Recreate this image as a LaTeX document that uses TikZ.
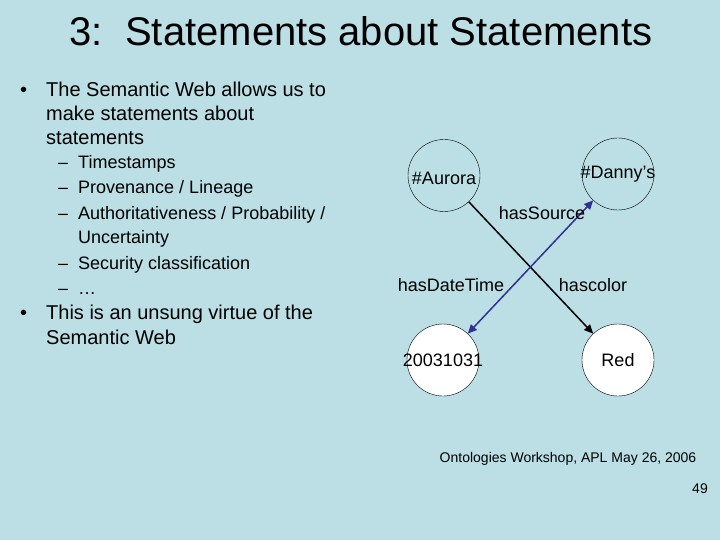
\documentclass[tikz,border=0pt]{standalone}
\usepackage{fontspec}
\setmainfont{Liberation Sans}
\usepackage{tikz}
\usetikzlibrary{arrows.meta,positioning}
\definecolor{slidebg}{RGB}{187,223,228}
\definecolor{arcblue}{RGB}{48,48,150}
\tikzset{
  resnode/.style={circle, draw=black, thin, minimum size=72pt, inner sep=0pt},
  litnode/.style={resnode, fill=white},
  proplabel/.style={font=\fontsize{18}{20}\selectfont},
  bodyline/.style={anchor=base west, inner sep=0pt, font=\fontsize{20}{24}\selectfont},
  subline/.style={anchor=base west, inner sep=0pt, font=\fontsize{18}{22}\selectfont},
  flow/.style={-{Triangle[length=9pt,width=8pt]}, line width=1.5pt},
  blueflow/.style={{Triangle[length=9pt,width=8pt]}-{Triangle[length=9pt,width=8pt]}, line width=1.5pt, draw=arcblue}
}
\begin{document}
\begin{tikzpicture}[x=1pt, y=-1pt]
\fill[slidebg] (0,0) rectangle (720,540);
\useasboundingbox (0,0) rectangle (720,540);

% title
\node[anchor=base, inner sep=0pt, font=\fontsize{40}{44}\selectfont] (title) at (361,46) {3:\ \ Statements about Statements};

% bullets
\node[bodyline] (b1) at (20,96.5) {•};
\node[bodyline] (t1) at (46,96.5) {The Semantic Web allows us to};
\node[bodyline] (t2) at (46,120.5) {make statements about};
\node[bodyline] (t3) at (46,144.5) {statements};
\foreach \y/\txt in {168.5/{Timestamps}, 194/{Provenance / Lineage},
    219.5/{Authoritativeness / Probability /}, 269.5/{Security classification}, 294.5/{\ldots}} {
  \node[subline] at (58,\y) {–};
  \node[subline] at (78,\y) {\txt};
}
\node[subline] (t4) at (78,243.5) {Uncertainty};
\node[bodyline] (b2) at (20,319.5) {•};
\node[bodyline] (t5) at (46,319.5) {This is an unsung virtue of the};
\node[bodyline] (t6) at (46,344) {Semantic Web};

% graph
\node[resnode, label={[yshift=-3pt]center:{\fontsize{18}{20}\selectfont\#Aurora}}] (aurora) at (444,175.5) {};
\node[resnode, label=center:{\fontsize{18}{20}\selectfont\#Danny’s}] (danny) at (618,174) {};
\node[litnode, label=center:{\fontsize{18}{20}\selectfont 20031031}] (date) at (443,360) {};
\node[litnode, label=center:{\fontsize{18}{20}\selectfont Red}] (red) at (618,360) {};

\draw[flow] (aurora) -- (red);
\draw[blueflow] (date) -- (danny);

\node[proplabel] (src) at (542,213) {hasSource};
\node[proplabel] (dt) at (451,285) {hasDateTime};
\node[proplabel] (col) at (593,285) {hascolor};

% footer
\node[anchor=base, inner sep=0pt, font=\fontsize{14}{16}\selectfont] (foot) at (568,462) {Ontologies Workshop, APL May 26, 2006};
\node[anchor=base east, inner sep=0pt, font=\fontsize{14}{16}\selectfont] (page) at (708,493) {49};
\end{tikzpicture}
\end{document}
